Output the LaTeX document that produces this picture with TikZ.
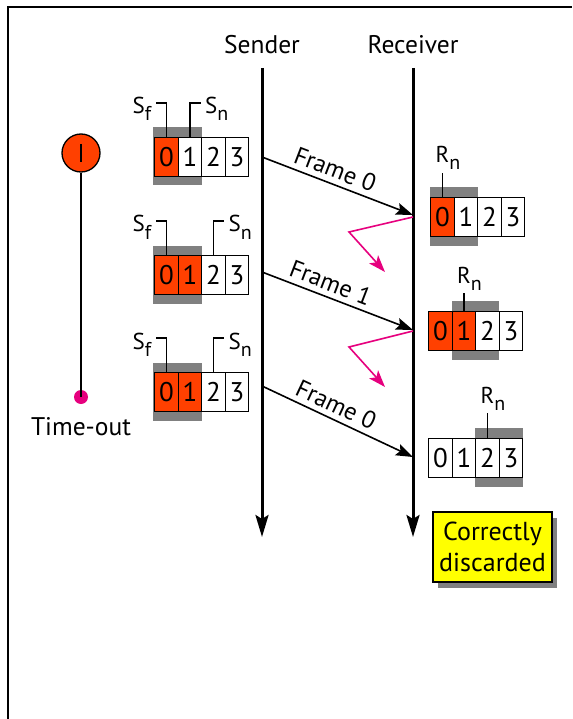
\documentclass[tikz,border=0pt]{standalone}
\usepackage{fontspec}
\setmainfont{PT Sans}
\usetikzlibrary{arrows.meta,calc,shadows}
\definecolor{wred}{HTML}{FF4000}
\definecolor{wpink}{HTML}{E6007E}
\definecolor{wgrey}{HTML}{808080}
\definecolor{wyellow}{HTML}{FFFF00}
\newcommand\sublbl[2]{#1\raisebox{-7pt}{\fontsize{20}{20}\selectfont #2}}
\newcommand\sublblc[2]{#1\rlap{\raisebox{-7pt}{\fontsize{20}{20}\selectfont #2}}}
\begin{document}
\begin{tikzpicture}[x=1pt,y=-1pt,
  cell/.style={draw=black,line width=1.3pt,minimum width=23.5pt,minimum height=39pt,
    inner sep=0pt,anchor=north west,font=\fontsize{27}{27}\selectfont},
  lbl/.style={font=\fontsize{25.5}{28}\selectfont,inner sep=0pt},
  mk/.style={font=\fontsize{23}{23}\selectfont,inner sep=0pt},
  tick/.style={line width=1.2pt},
  tline/.style={line width=3pt,-{Stealth[length=22pt,width=13pt,inset=4pt]}},
  farrow/.style={line width=1.6pt,-{Stealth[length=17pt,width=12pt,inset=3pt]}},
  lost/.style={draw=wpink,line width=1.6pt,-{Stealth[length=17pt,width=12pt,inset=4pt]}},
  flbl/.style={font=\fontsize{24.5}{24.5}\selectfont,sloped,above=5pt,inner sep=0pt}]
\useasboundingbox (0,0) rectangle (572,719);
% frame
\draw[line width=2pt] (8,719) -- (8,7) -- (572,7);
% timelines
\node[lbl] (sender) at (262,45) {Sender};
\node[lbl] (receiver) at (413,45) {Receiver};
\coordinate (stop) at (262,68); \coordinate (sbot) at (262,537);
\coordinate (rtop) at (413,68); \coordinate (rbot) at (413,537);
\draw[tline] (stop) -- (sbot);
\draw[tline] (rtop) -- (rbot);
% sender windows
\foreach \w/\yt/\nred/\sn in {1/137/1/1, 2/255/2/2, 3/372/2/2} {
  \fill[wgrey] (153,\yt-9.5) rectangle (202,\yt+48.5);
  \foreach \i in {0,...,3} {
    \ifnum\i<\nred \def\fc{wred}\else\def\fc{white}\fi
    \node[cell,fill=\fc] (s\w-\i) at (154+23.5*\i,\yt) {\i};
  }
  \draw[tick] (s\w-0.north) -- ++(0,-34) -- ++(-10,0);
  \draw[tick] (s\w-\sn.north) -- ++(0,-34) -- ++(11,0);
  \node[mk,anchor=base east] (sf\w) at ($(s\w-0.north)+(-15,-23)$) {\sublbl{S}{f}};
  \node[mk,anchor=base west] (sn\w) at ($(s\w-\sn.north)+(15,-23)$) {\sublbl{S}{n}};
}
% receiver windows
\foreach \w/\xl/\yt/\nred/\rn/\len in {1/430/197/1/0/24, 2/428/311/2/1/18, 3/428/438/0/2/25} {
  \pgfmathsetmacro\gx{\xl+23.5*\rn}
  \fill[wgrey] (\gx,\yt-10) rectangle (\gx+47.5,\yt+48.5);
  \foreach \i in {0,...,3} {
    \ifnum\i<\nred \def\fc{wred}\else\def\fc{white}\fi
    \node[cell,fill=\fc] (r\w-\i) at (\xl+23.5*\i,\yt) {\i};
  }
  \draw[tick] (r\w-\rn.north) -- ++(0,-\len) coordinate (rt\w);
  \node[mk,anchor=base] (rn\w) at ($(rt\w)+(0,-10)$) {\sublblc{R}{n}};
}
% frames
\coordinate (f1s) at (262,157); \coordinate (f1r) at (413,215);
\coordinate (f2s) at (262,272); \coordinate (f2r) at (413,330);
\coordinate (f3s) at (262,386); \coordinate (f3r) at (413,457);
\draw[farrow] (f1s) -- node[flbl,pos=0.45] (fl1) {Frame 0} (f1r);
\draw[farrow] (f2s) -- node[flbl,pos=0.42] (fl2) {Frame 1} (f2r);
\draw[farrow] (f3s) -- node[flbl,pos=0.45] (fl3) {Frame 0} (f3r);
% lost acks
\coordinate (a1) at (413,217); \coordinate (b1) at (349,232); \coordinate (c1) at (385,272);
\coordinate (a2) at (413,331); \coordinate (b2) at (349,347); \coordinate (c2) at (385,387);
\draw[lost] (a1) -- (b1) -- (c1);
\draw[lost] (a2) -- (b2) -- (c2);
% timer
\node[circle,draw=black,line width=1.3pt,fill=wred,minimum size=38pt,inner sep=0pt] (timer) at (81,153) {};
\draw[line width=2.8pt] ($(timer.center)+(0,-9)$) -- ($(timer.center)+(0,9)$);
\node[circle,fill=wpink,minimum size=14pt,inner sep=0pt] (tdot) at (81,397) {};
\draw[line width=1.6pt] (timer.south) -- (tdot.center);
\node[lbl] (tout) at (81,427) {Time-out};
% note
\node[draw=black,line width=1.3pt,fill=wyellow,minimum width=119pt,minimum height=70pt,
  align=center,inner sep=0pt,font=\fontsize{26}{31}\selectfont,
  drop shadow={shadow xshift=5pt,shadow yshift=-6pt,fill=wgrey,opacity=1}] (cd) at (492.5,547) {Correctly\\discarded};
\end{tikzpicture}
\end{document}
